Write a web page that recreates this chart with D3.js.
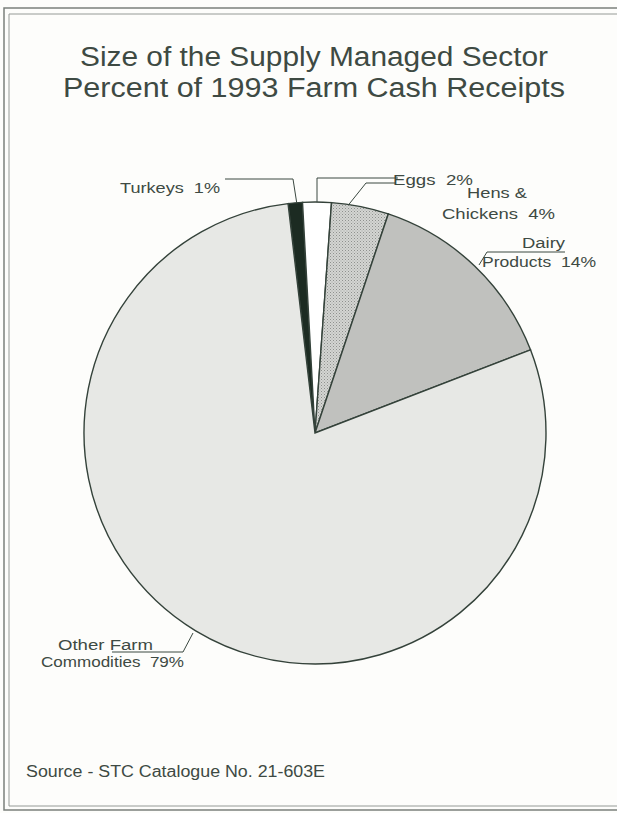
<!DOCTYPE html>
<html>
<head>
<meta charset="utf-8">
<script src="https://cdn.jsdelivr.net/npm/d3@7"></script>
<style>
  body { margin: 0; background: #fdfdfb; }
  text { font-family: 'Liberation Sans', Arial, sans-serif; fill: #3e4a43; white-space: pre; }
</style>
</head>
<body>
<div id="chart"></div>
<script>
const categories = ['Turkeys', 'Eggs', 'Hens & Chickens', 'Dairy Products', 'Other Farm Commodities']
const percents = [1, 2, 4, 14, 79]
const titleLines = ['Size of the Supply Managed Sector', 'Percent of 1993 Farm Cash Receipts']
const source = 'Source - STC Catalogue No. 21-603E'

const width = 617
const height = 813

const svg = d3
  .select('#chart')
  .append('svg')
  .attr('width', width)
  .attr('height', height)

// frame (double line, scanned page look)
svg.append('path')
  .attr('d', 'M640,8 H4 V810 H640')
  .attr('fill', 'none').attr('stroke', '#7b807c').attr('stroke-width', 1.5)
svg.append('path')
  .attr('d', 'M640,14 H9 V806 H640')
  .attr('fill', 'none').attr('stroke', '#959a96').attr('stroke-width', 1)

const titleWidths = [468, 502]
svg.selectAll('.title')
  .data(titleLines)
  .enter()
  .append('text')
  .attr('class', 'title')
  .attr('x', 314)
  .attr('y', (d, i) => 66 + i * 31)
  .attr('text-anchor', 'middle')
  .attr('font-size', 27)
  .attr('textLength', (d, i) => titleWidths[i])
  .attr('lengthAdjust', 'spacingAndGlyphs')
  .text(d => d)

const data = categories.map((c, i) => ({ name: c, value: percents[i] }))

const radius = 231
const cx = 315
const cy = 433

const startA = -6.7 * Math.PI / 180
const pie = d3.pie()
  .value(d => d.value)
  .sort(null)
  .startAngle(startA)
  .endAngle(startA + 2 * Math.PI)

const arc = d3.arc().innerRadius(0).outerRadius(radius)

const colorScale = d3.scaleOrdinal()
  .domain(categories)
  .range(['#1c2b22', '#ffffff', 'url(#stipple)', '#c0c1be', '#e7e8e5'])

const defs = svg.append('defs')
const pat = defs.append('pattern')
  .attr('id', 'stipple')
  .attr('width', 3).attr('height', 3)
  .attr('patternUnits', 'userSpaceOnUse')
pat.append('rect').attr('width', 3).attr('height', 3).attr('fill', '#d4d5d2')
pat.append('rect').attr('x', 0).attr('y', 0).attr('width', 1).attr('height', 1).attr('fill', '#8e918e')
pat.append('rect').attr('x', 1.5).attr('y', 1.5).attr('width', 1).attr('height', 1).attr('fill', '#a3a6a3')

const g = svg.append('g').attr('transform', 'translate(' + cx + ',' + cy + ')')

const arcs = pie(data)

g.selectAll('path')
  .data(arcs)
  .enter()
  .append('path')
  .attr('d', arc)
  .attr('fill', d => colorScale(d.data.name))
  .attr('stroke', '#34423a')
  .attr('stroke-width', 1.4)

// point on the rim, a fraction t through a slice
function rim(d, t) {
  const a = d.startAngle + (d.endAngle - d.startAngle) * t
  return [cx + radius * Math.sin(a), cy - radius * Math.cos(a)]
}

// labels: text lines (start x, baseline, stretched width) and leader lines
const labels = [
  { lines: [{ t: 'Turkeys  1%', x: 120, y: 193, w: 100 }],
    leader: d => [[225, 179], [293, 179], rim(d, 0.6)] },
  { lines: [{ t: 'Eggs  2%', x: 393, y: 185, w: 80 }],
    leader: d => [[398, 178], [317, 178], [317, rim(d, 0.5)[1]]] },
  { lines: [{ t: 'Hens &', x: 467, y: 198, w: 60 }, { t: 'Chickens  4%', x: 442, y: 219, w: 113 }],
    leader: d => [[395, 183], [366, 183], rim(d, 0.3)] },
  { lines: [{ t: 'Dairy', x: 522, y: 248, w: 43 }, { t: 'Products  14%', x: 482, y: 267, w: 114 }],
    leader: d => [[565, 252], [487, 252], [479, 265]] },
  { lines: [{ t: 'Other Farm', x: 58, y: 650, w: 95 }, { t: 'Commodities  79%', x: 41, y: 667, w: 143 }],
    leader: d => [[112, 652], [183, 652], [193, 633]] }
]

const line = d3.line()

labels.forEach((l, i) => {
  const d = arcs[i]
  l.lines.forEach(s => {
    svg.append('text')
      .attr('x', s.x)
      .attr('y', s.y)
      .attr('font-size', 15.5)
      .attr('textLength', s.w)
      .attr('lengthAdjust', 'spacingAndGlyphs')
      .text(s.t)
  })
  svg.append('path')
    .attr('d', line(l.leader(d)))
    .attr('fill', 'none')
    .attr('stroke', '#3a4840')
    .attr('stroke-width', 1)
})

svg.append('text')
  .attr('x', 26)
  .attr('y', 777)
  .attr('font-size', 16)
  .attr('textLength', 299)
  .attr('lengthAdjust', 'spacingAndGlyphs')
  .text(source)
</script>
</body>
</html>
